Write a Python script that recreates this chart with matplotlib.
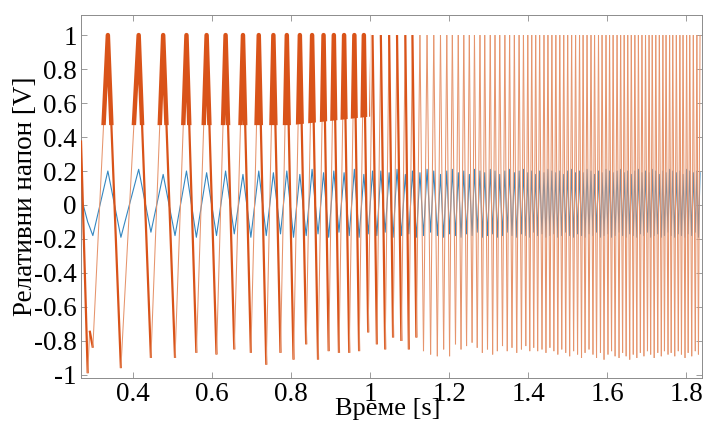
import numpy as np
from matplotlib import pyplot as plt
from matplotlib.collections import LineCollection
from matplotlib.patches import Polygon

# фонт сличан Times-у, подржава ћирилицу
plt.rcParams['font.family'] = ['Liberation Serif', 'DejaVu Serif']
plt.rcParams['axes.unicode_minus'] = False

# почетак сигнала, пре првог врха
t_start = [0.268, 0.285, 0.290, 0.298]
v_start = [0.38, -0.99, -0.74, -0.84]   # наранџасти
b_start = [0.05, -0.10, -0.13, -0.18]   # плави

# времена врхова (наранџасти је засићен на 1)
t_peak = [0.336, 0.414, 0.476, 0.535, 0.586, 0.634, 0.678, 0.718, 0.755, 0.789,
          0.822, 0.853, 0.882, 0.908, 0.934, 0.960, 0.984, 1.006, 1.027, 1.048,
          1.068, 1.089, 1.107, 1.126, 1.144, 1.161, 1.178, 1.194, 1.208, 1.223,
          1.237, 1.251, 1.264, 1.278, 1.290, 1.304, 1.316, 1.328, 1.341, 1.353,
          1.365, 1.377, 1.388, 1.399, 1.409, 1.419, 1.429, 1.440, 1.450, 1.460,
          1.470, 1.480, 1.490, 1.500, 1.510, 1.520, 1.530, 1.539, 1.549, 1.559,
          1.568, 1.578, 1.587, 1.597, 1.606, 1.615, 1.625, 1.634, 1.643, 1.652,
          1.661, 1.670, 1.679, 1.688, 1.697, 1.706, 1.714, 1.723, 1.732, 1.741,
          1.749, 1.758, 1.766, 1.775, 1.784, 1.792, 1.801, 1.809, 1.818, 1.827,
          1.835]
v_peak = 1.0

# времена и дубине долина
t_trough = [0.369, 0.445, 0.506, 0.560, 0.611, 0.656, 0.698, 0.737, 0.773, 0.806,
            0.838, 0.868, 0.895, 0.921, 0.947, 0.972, 0.995, 1.017, 1.038, 1.058,
            1.079, 1.098, 1.117, 1.135, 1.153, 1.170, 1.186, 1.201, 1.216, 1.230,
            1.244, 1.258, 1.271, 1.284, 1.297, 1.310, 1.322, 1.335, 1.347, 1.359,
            1.371, 1.383, 1.394, 1.404, 1.414, 1.424, 1.435, 1.445, 1.455, 1.465,
            1.475, 1.485, 1.495, 1.505, 1.515, 1.525, 1.535, 1.544, 1.554, 1.564,
            1.573, 1.583, 1.592, 1.602, 1.611, 1.620, 1.630, 1.639, 1.648, 1.657,
            1.666, 1.675, 1.684, 1.693, 1.702, 1.710, 1.719, 1.728, 1.737, 1.745,
            1.754, 1.762, 1.771, 1.780, 1.788, 1.797, 1.805, 1.814, 1.823, 1.831]
v_trough = [-0.96, -0.90, -0.90, -0.87, -0.88, -0.85, -0.87, -0.94, -0.87, -0.91,
            -0.82, -0.91, -0.86, -0.87, -0.87, -0.86, -0.75, -0.82, -0.85, -0.78,
            -0.80, -0.85, -0.78, -0.86, -0.88, -0.89, -0.85, -0.89, -0.82, -0.85,
            -0.83, -0.81, -0.84, -0.87, -0.85, -0.88, -0.86, -0.83, -0.86, -0.84,
            -0.87, -0.85, -0.83, -0.86, -0.84, -0.86, -0.85, -0.87, -0.84, -0.86,
            -0.88, -0.85, -0.87, -0.89, -0.86, -0.88, -0.90, -0.87, -0.85, -0.88,
            -0.90, -0.87, -0.91, -0.88, -0.86, -0.89, -0.90, -0.87, -0.89, -0.91,
            -0.88, -0.90, -0.87, -0.89, -0.86, -0.88, -0.90, -0.87, -0.89, -0.86,
            -0.88, -0.87, -0.89, -0.86, -0.88, -0.90, -0.87, -0.89, -0.86, -0.88]

# плави сигнал, исти ритам, мања амплитуда
b_peak = [0.20, 0.21, 0.18, 0.20, 0.19, 0.20, 0.18, 0.20, 0.19, 0.20,
          0.18, 0.21, 0.19, 0.20, 0.19, 0.21, 0.18, 0.20, 0.20, 0.19,
          0.21, 0.18, 0.20, 0.19, 0.21, 0.20, 0.18, 0.20, 0.21, 0.19,
          0.20, 0.18, 0.21, 0.20, 0.19, 0.21, 0.20, 0.18, 0.20, 0.21,
          0.19, 0.20, 0.21, 0.19, 0.20, 0.18, 0.20, 0.19, 0.21, 0.20,
          0.19, 0.20, 0.18, 0.20, 0.21, 0.19, 0.20, 0.19, 0.21, 0.20,
          0.18, 0.20, 0.19, 0.21, 0.20, 0.19, 0.20, 0.21, 0.19, 0.20,
          0.18, 0.20, 0.21, 0.19, 0.20, 0.19, 0.21, 0.20, 0.18, 0.20,
          0.19, 0.21, 0.20, 0.19, 0.20, 0.18, 0.21, 0.20, 0.19, 0.20,
          0.19]
b_trough = [-0.19, -0.16, -0.18, -0.19, -0.18, -0.17, -0.19, -0.18, -0.17, -0.19,
            -0.18, -0.17, -0.19, -0.16, -0.18, -0.19, -0.17, -0.18, -0.16, -0.19,
            -0.18, -0.17, -0.19, -0.18, -0.16, -0.18, -0.19, -0.17, -0.18, -0.19,
            -0.17, -0.18, -0.16, -0.19, -0.18, -0.17, -0.19, -0.18, -0.16, -0.18,
            -0.19, -0.17, -0.18, -0.19, -0.16, -0.18, -0.17, -0.19, -0.18, -0.17,
            -0.19, -0.18, -0.16, -0.18, -0.19, -0.17, -0.18, -0.19, -0.17, -0.18,
            -0.16, -0.19, -0.18, -0.17, -0.19, -0.18, -0.16, -0.18, -0.19, -0.17,
            -0.18, -0.19, -0.17, -0.18, -0.16, -0.19, -0.18, -0.17, -0.19, -0.18,
            -0.16, -0.18, -0.19, -0.17, -0.18, -0.19, -0.17, -0.18, -0.16, -0.19]

x_ticks = [0.4, 0.6, 0.8, 1.0, 1.2, 1.4, 1.6, 1.8]
x_labels = ['0.4', '0.6', '0.8', '1', '1.2', '1.4', '1.6', '1.8']
y_ticks = [-1, -0.8, -0.6, -0.4, -0.2, 0, 0.2, 0.4, 0.6, 0.8, 1]
y_labels = ['-1', '-0.8', '-0.6', '-0.4', '-0.2', '0', '0.2', '0.4', '0.6', '0.8', '1']

# слагање врх-долина-врх...
t = list(t_start)
o = list(v_start)
b = list(b_start)
for i in range(len(t_peak)):
    t.append(t_peak[i]); o.append(v_peak); b.append(b_peak[i])
    if i < len(t_trough):
        t.append(t_trough[i]); o.append(v_trough[i]); b.append(b_trough[i])
t = np.array(t)
o = np.array(o)
b = np.array(b)

fig = plt.figure(figsize=(7.05, 4.25), dpi=100)
ax = fig.add_axes([81 / 705, 1 - 378 / 425, 621 / 705, 363 / 425])

ax.plot(t, b, color='#3587c0', lw=0.8, zorder=2)

# наранџасти: силазне ивице дебље и тамније у почетку
pts = np.column_stack([t, o])
segs = np.stack([pts[:-1], pts[1:]], axis=1)
falling = o[1:] < o[:-1]
early = t[:-1] < 1.12
lws = np.where(falling & early, 1.6, 0.75)
cols = np.where(falling & early, '#d95319', '#e6946c')
lc = LineCollection(segs, linewidths=lws, colors=cols, zorder=3)
ax.add_collection(lc)

# задебљани врхови (горњи део таласа)
top, = ax.plot(t, o, color='#d95319', lw=3.2, zorder=3)
clip = Polygon([[0.26, 0.47], [0.80, 0.47], [1.0, 0.52], [1.0, 1.2], [0.26, 1.2]],
               transform=ax.transData)
top.set_clip_path(clip)

ax.set_xlim(0.268, 1.840)
ax.set_ylim(-1.018, 1.118)
ax.set_xticks(x_ticks)
ax.set_xticklabels(x_labels)
ax.set_yticks(y_ticks)
ax.set_yticklabels(y_labels)
ax.tick_params(direction='in', length=4, width=0.6, color='#8c8c8c',
               top=True, right=True, labelsize=19.5, pad=3)
for s in ax.spines.values():
    s.set_color('#8c8c8c')
    s.set_linewidth(0.7)

ax.set_xlabel('Време [s]', fontsize=19)
ax.xaxis.label.set_va('bottom')
ax.xaxis.set_label_coords(0.494, -0.116)
ax.set_ylabel('Релативни напон [V]', fontsize=19.5)
ax.yaxis.label.set_va('center')
ax.yaxis.set_label_coords(-0.090, 0.5)

fig.savefig('out.png', dpi=100, facecolor='white')
